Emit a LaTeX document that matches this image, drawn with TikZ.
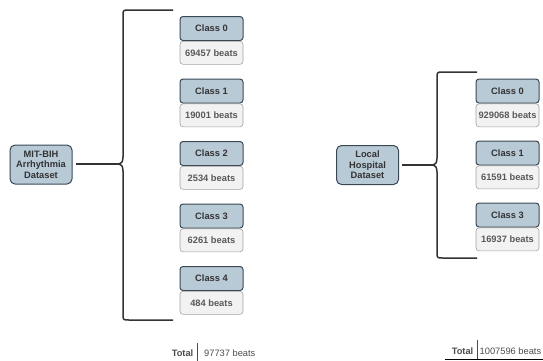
\documentclass[tikz,border=0pt]{standalone}
\usepackage{fontspec}
\setmainfont{Liberation Sans}
\usetikzlibrary{positioning}
\definecolor{hdrfill}{HTML}{B9CAD7}
\definecolor{hdrdraw}{HTML}{3A4856}
\definecolor{valfill}{HTML}{F2F2F2}
\definecolor{valdraw}{HTML}{A3A3A3}
\definecolor{bracecol}{HTML}{333333}
\def\boxfont{\fontsize{9.3}{10.5}\selectfont}

\begin{document}
\begin{tikzpicture}[x=1pt,y=-1pt,font=\boxfont]
    \tikzstyle{dataset}=[draw=hdrdraw, fill=hdrfill, rounded corners=5pt, line width=1pt, minimum width=62pt, minimum height=39pt, inner sep=1pt, align=center, font=\boxfont\bfseries, text=black!80]
    \tikzstyle{class}=[draw=hdrdraw, fill=hdrfill, rounded corners=3pt, line width=1pt, minimum width=63pt, minimum height=24pt, inner sep=1pt, font=\boxfont\bfseries, text=black!80]
    \tikzstyle{count}=[draw=valdraw, fill=valfill, rounded corners=3pt, line width=0.6pt, minimum width=63pt, minimum height=23pt, inner sep=1pt, font=\boxfont\bfseries, text=black!65]
    \tikzstyle{brace}=[draw=bracecol, line width=1.5pt, line join=round]
    \tikzstyle{total}=[inner sep=0pt, text=black!70]
    \tikzstyle{rule}=[draw=black!70, line width=0.8pt]

    \useasboundingbox (0,0) rectangle (543,360);

    % MIT-BIH side
    \node[dataset] (D-mit) at (41,164.5) {MIT-BIH\\Arrhythmia\\Dataset};

    \foreach \i/\n in {0/69457,1/19001,2/2534,3/6261,4/484}{
        \pgfmathsetmacro\yy{28.5+62.5*\i}
        \node[class] (L-\i) at (211.5,\yy) {Class \i};
        \node[count, below=0pt of L-\i] (LV-\i) {\n\ beats};
    }

    \coordinate (LB-top) at (173,10);
    \coordinate (LB-bot) at (173,320);
    \coordinate (LB-tip) at (119,164);
    \draw[brace] (LB-top) -- (129,10) .. controls (123,10) .. (123,16) -- (123,157)
        .. controls (123,162) and (121,164) .. (LB-tip)
        .. controls (121,164) and (123,166) .. (123,171)
        -- (123,314) .. controls (123,320) .. (129,320) -- (LB-bot);
    \draw[brace, shorten <=3pt] (D-mit.east |- LB-tip) -- (LB-tip);

    % local hospital side
    \node[dataset] (D-loc) at (367.5,165) {Local\\Hospital\\Dataset};

    \foreach \i/\n [count=\k from 0] in {0/929068,1/61591,3/16937}{
        \pgfmathsetmacro\yy{91+62*\k}
        \node[class] (R-\i) at (507.5,\yy) {Class \i};
        \node[count, below=0pt of R-\i] (RV-\i) {\n\ beats};
    }

    \coordinate (RB-top) at (477,72);
    \coordinate (RB-bot) at (477,258);
    \coordinate (RB-tip) at (433,165);
    \draw[brace] (RB-top) -- (443,72) .. controls (437,72) .. (437,78) -- (437,158)
        .. controls (437,163) and (435,165) .. (RB-tip)
        .. controls (435,165) and (437,167) .. (437,172)
        -- (437,252) .. controls (437,258) .. (443,258) -- (RB-bot);
    \draw[brace, shorten <=3pt] (D-loc.east |- RB-tip) -- (RB-tip);

    % totals
    \node[total, anchor=east, font=\boxfont\bfseries] (LT) at (193.5,353) {Total};
    \node[total, anchor=west] (LT-v) at (204,353) {97737 beats};
    \coordinate (LT-a) at (197,343);
    \coordinate (LT-b) at (197,362);
    \draw[rule] (LT-a) -- (LT-b);

    \node[total, anchor=east, font=\boxfont\bfseries] (RT) at (473.5,351) {Total};
    \node[total, anchor=west] (RT-v) at (479.5,351) {1007596 beats};
    \coordinate (RT-a) at (477,340);
    \coordinate (RT-b) at (477,359);
    \coordinate (RT-l) at (445,359);
    \coordinate (RT-r) at (543,359);
    \draw[rule] (RT-a) -- (RT-b);
    \draw[rule, draw=black] (RT-l) -- (RT-r);
\end{tikzpicture}
\end{document}
